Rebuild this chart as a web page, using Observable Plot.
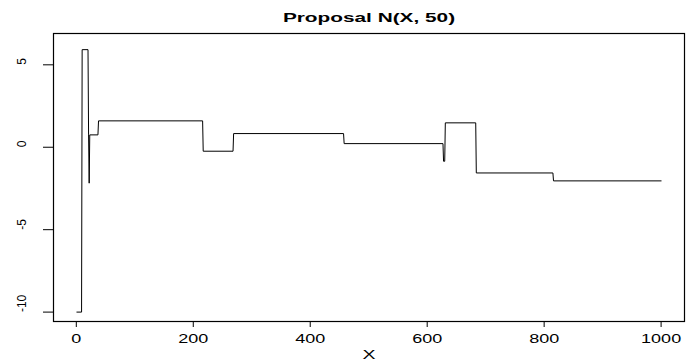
<!DOCTYPE html>
<html>
<head>
<meta charset="utf-8">
<script src="https://cdn.jsdelivr.net/npm/d3@7"></script>
<script src="https://cdn.jsdelivr.net/npm/@observablehq/plot@0.6"></script>
<style>
  html, body { margin: 0; padding: 0; background: white; }
  #chart svg { display: block; }
</style>
</head>
<body>
<div id="chart"></div>
<script>
// Trace of the chain as constant runs (iteration start, iteration end, value)
const runStart = [1, 10, 21, 22, 23, 38, 217, 269, 458, 628, 631, 684, 816];
const runEnd   = [9, 20, 21, 22, 37, 216, 268, 457, 627, 630, 683, 815, 1000];
const runValue = [-10, 5.92, 0.75, -2.18, 0.75, 1.6, -0.24, 0.83, 0.22, -0.85, 1.48, -1.56, -2.04];

const xTicks = [0, 200, 400, 600, 800, 1000];
const yTicks = [-10, -5, 0, 5];
const titleText = "Proposal N(X, 50)";
const xLabel = "X";

const points = runStart.flatMap((s, k) => [
  {i: s, v: runValue[k]},
  {i: runEnd[k], v: runValue[k]}
]);

const chart = Plot.plot({
  width: 690,
  height: 364,
  marginLeft: 53,
  marginRight: 6,
  marginTop: 33,
  marginBottom: 43,
  style: {fontFamily: "'Liberation Sans', Arial, sans-serif", fontSize: "12px", color: "black", background: "white"},
  x: {domain: [-39, 1040]},
  y: {domain: [-10.57, 6.9]},
  marks: [
    Plot.line(points, {x: "i", y: "v", stroke: "black", strokeWidth: 1}),
    Plot.frame({stroke: "black", strokeWidth: 1.2}),
    Plot.axisX({ticks: xTicks, tickSize: 6, tickPadding: 7, fontSize: 12, label: null, tickFormat: d => String(d)}),
    Plot.axisY({ticks: yTicks, tickSize: 10, label: null, tickFormat: () => ""}),
    Plot.text(yTicks, {y: d => d, text: d => String(d), frameAnchor: "left", dx: -31, rotate: -90, fontSize: 12}),
    Plot.text([titleText], {text: d => d, frameAnchor: "top", dy: -21, fontSize: 13, fontWeight: "bold"}),
    Plot.text([xLabel], {text: d => d, frameAnchor: "bottom", dy: 37, fontSize: 13})
  ]
});

document.getElementById("chart").appendChild(chart);

// The reference glyphs are horizontally stretched; mimic with textLength
d3.select(chart).selectAll("text").each(function() {
  const t = this.getAttribute("transform") || "";
  if (t.includes("rotate")) return;
  const txt = this.textContent;
  if (!txt) return;
  const sx = txt === titleText ? 1.6 : 1.5;
  const len = this.getComputedTextLength();
  if (len > 0) {
    this.setAttribute("textLength", (len * sx).toFixed(2));
    this.setAttribute("lengthAdjust", "spacingAndGlyphs");
  }
});
</script>
</body>
</html>
